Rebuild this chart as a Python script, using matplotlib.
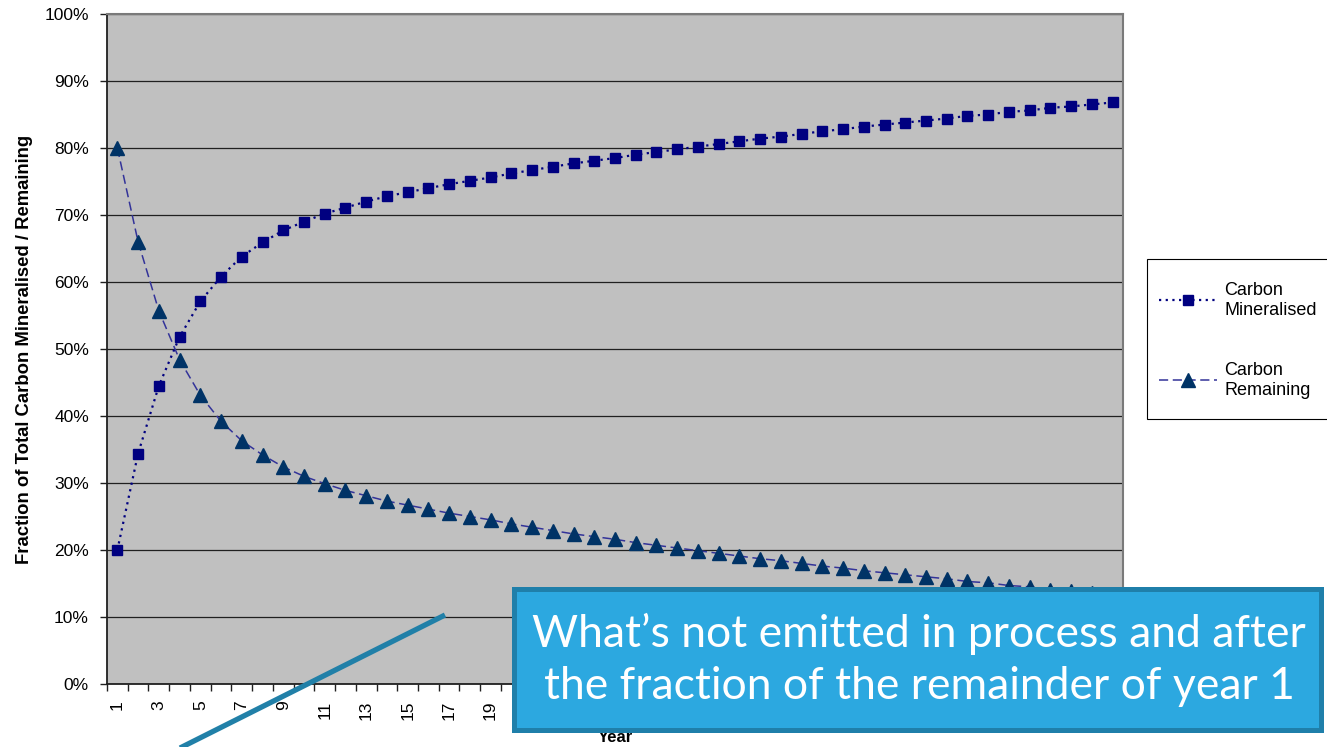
import matplotlib
matplotlib.use("Agg")
import matplotlib.pyplot as plt
from matplotlib.lines import Line2D
from matplotlib.patches import Rectangle
from matplotlib.ticker import FixedLocator, PercentFormatter

# Years since input
years = list(range(1, 50))

# Share of total carbon already mineralised (%)
carbon_mineralised = [
    20.0, 34.4, 44.5, 51.8, 57.1, 60.8, 63.8, 65.9, 67.7, 69.0,
    70.2, 71.1, 72.0, 72.8, 73.4, 74.0, 74.6, 75.1, 75.6, 76.2,
    76.7, 77.2, 77.7, 78.1, 78.5, 79.0, 79.4, 79.8, 80.2, 80.6,
    81.0, 81.4, 81.7, 82.1, 82.5, 82.8, 83.2, 83.5, 83.8, 84.1,
    84.4, 84.8, 85.0, 85.4, 85.6, 86.0, 86.2, 86.5, 86.8,
]

# Share of total carbon still remaining (%)
carbon_remaining = [
    80.0, 66.0, 55.7, 48.4, 43.1, 39.2, 36.3, 34.2, 32.4, 31.0,
    29.9, 28.9, 28.1, 27.3, 26.7, 26.1, 25.5, 25.0, 24.5, 23.9,
    23.4, 22.9, 22.4, 22.0, 21.6, 21.1, 20.7, 20.3, 19.9, 19.5,
    19.1, 18.7, 18.4, 18.0, 17.6, 17.3, 16.9, 16.6, 16.3, 16.0,
    15.7, 15.3, 15.1, 14.7, 14.5, 14.1, 13.9, 13.6, 13.3,
]

series_labels = ["Carbon\nMineralised", "Carbon\nRemaining"]
y_label = "Fraction of Total Carbon Mineralised / Remaining"
x_label = "Year"
callout = "What\u2019s not emitted in process and after\nthe fraction of the remainder of year 1"

W, H = 1327, 747
plt.rcParams["font.family"] = ["Liberation Sans", "DejaVu Sans"]

fig = plt.figure(figsize=(W / 100, H / 100), dpi=100)
fig.patch.set_facecolor("white")

# plot area in pixel terms: left 107, right 1123, top 14, bottom 684
ax = fig.add_axes([107 / W, (H - 684) / H, 1016 / W, 670 / H])
ax.set_facecolor("#C0C0C0")

ax.plot(years, carbon_mineralised, color="#000080", lw=1.6,
        linestyle=(0, (1.0, 2.0)), marker="s", markersize=7.8,
        markerfacecolor="#000080", markeredgecolor="#000080",
        label=series_labels[0], zorder=3)
ax.plot(years, carbon_remaining, color="#333399", lw=1.1,
        linestyle=(0, (6, 3)), marker="^", markersize=10.5,
        markerfacecolor="#003366", markeredgecolor="#003366",
        label=series_labels[1], zorder=3)

ax.set_xlim(0.5, len(years) + 0.5)
ax.set_ylim(0, 100)

# y axis: percent ticks every 10 with horizontal grid
ax.yaxis.set_major_locator(FixedLocator(range(0, 101, 10)))
ax.yaxis.set_major_formatter(PercentFormatter(decimals=0))
ax.grid(axis="y", color="#202020", lw=0.9, zorder=1)
ax.grid(axis="x", visible=False)
ax.tick_params(axis="y", direction="out", length=5, width=1, color="#202020",
               labelsize=12.5, pad=8)

# x axis: tick marks between categories, labels on odd years
ax.xaxis.set_major_locator(FixedLocator(years[::2]))
ax.set_xticklabels([str(y) for y in years[::2]], rotation=90)
ax.xaxis.set_minor_locator(FixedLocator([y + 0.5 for y in [0] + years]))
ax.tick_params(axis="x", which="major", length=0, labelsize=12.5, pad=12)
ax.tick_params(axis="x", which="minor", direction="out", length=5, width=1,
               color="#202020")

for side in ("left", "bottom"):
    ax.spines[side].set_color("#202020")
    ax.spines[side].set_linewidth(1.3)
for side in ("top", "right"):
    ax.spines[side].set_color("#7a7a7a")
    ax.spines[side].set_linewidth(1.5)

ax.set_ylabel(y_label, fontsize=13.3, fontweight="bold", va="center")
ax.yaxis.set_label_coords((25 - 107) / 1016, 0.5)
ax.set_xlabel(x_label, fontsize=12, fontweight="bold", va="center")
ax.xaxis.set_label_coords(0.5, -(738 - 684) / 670)

# legend box running off the right edge
fig.add_artist(Rectangle((1147 / W, (H - 419) / H), 200 / W, 160 / H,
                         transform=fig.transFigure, facecolor="white",
                         edgecolor="black", lw=0.8, zorder=2))
handles, labels = ax.get_legend_handles_labels()
leg = fig.legend(handles, labels, loc="upper left",
                 bbox_to_anchor=(1159 / W, 1 - 282 / H),
                 bbox_transform=fig.transFigure, frameon=False, fontsize=13,
                 handlelength=3.2, handletextpad=0.4, labelspacing=2.4,
                 borderpad=0, borderaxespad=0)
leg.set_zorder(5)

# callout box and pointer
fig.add_artist(Rectangle((513.5 / W, (H - 729.5) / H), 807 / W, 141 / H,
                         transform=fig.transFigure, facecolor="#2CA8E0",
                         edgecolor="#1F7FAA", lw=3.6, zorder=10))
fig.text(919 / W, (H - 660) / H, callout, ha="center", va="center",
         color="white", fontsize=32, family="Lato", linespacing=1.32,
         zorder=11)
fig.add_artist(Line2D([180 / W, 445 / W], [(H - 748) / H, (H - 615) / H],
                      transform=fig.transFigure, color="#2180A8", lw=3.8,
                      solid_capstyle="butt", zorder=9))

fig.savefig("out.png", dpi=100)
